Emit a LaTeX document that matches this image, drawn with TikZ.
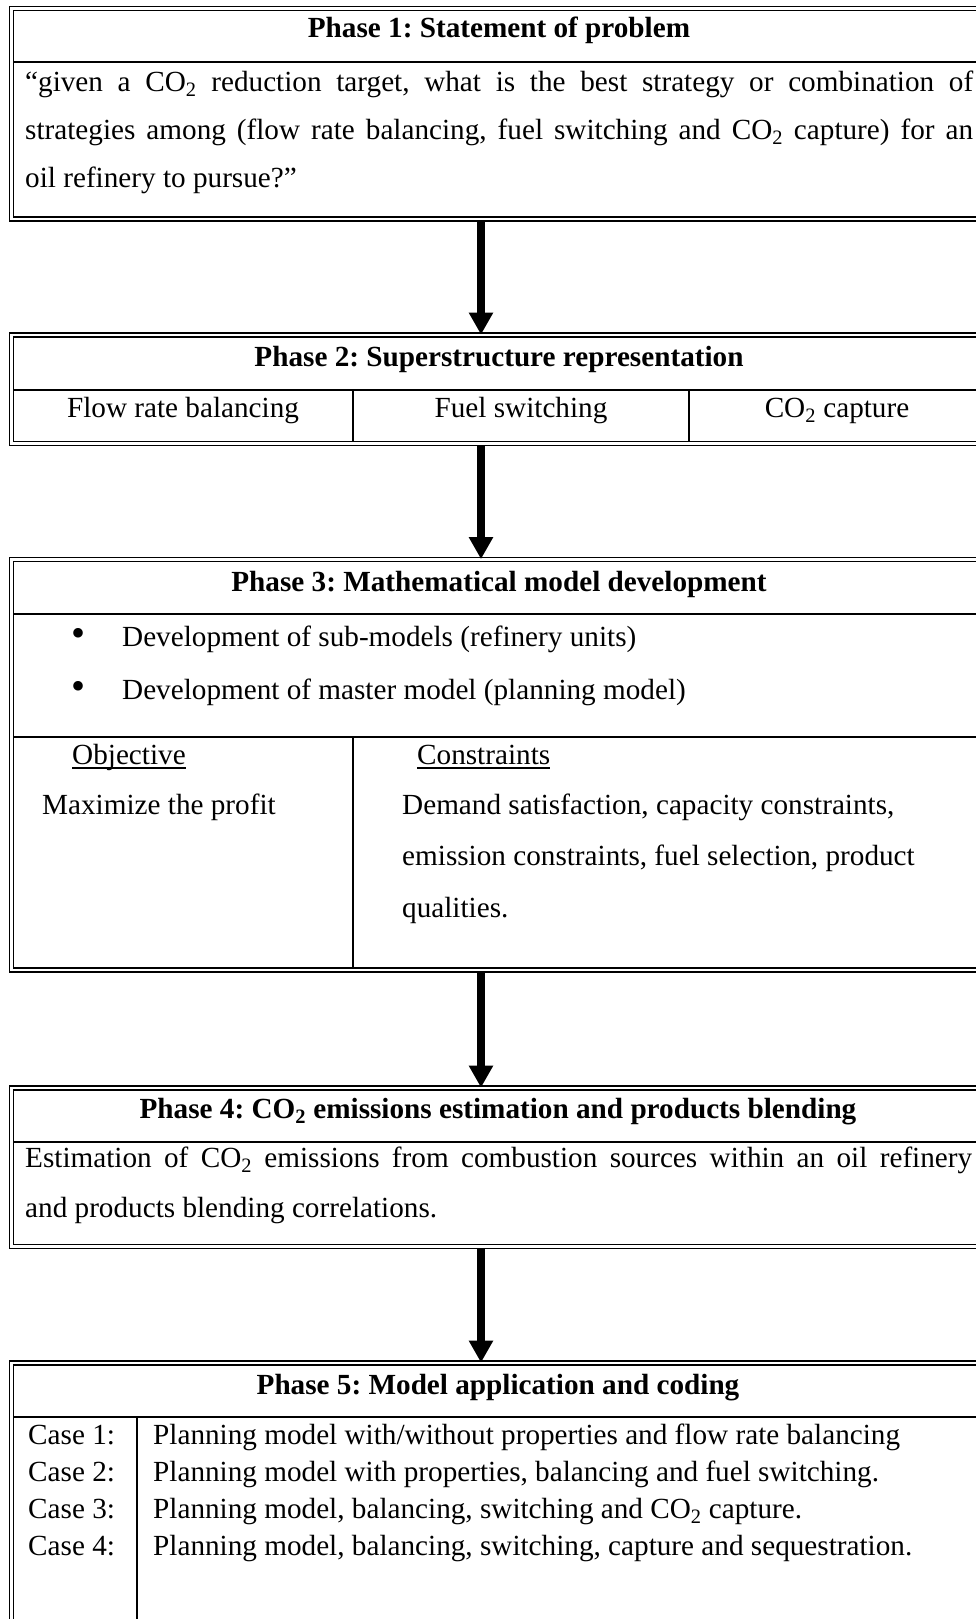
\documentclass[tikz,border=0pt]{standalone}
\usepackage{fontspec}
\setmainfont{Liberation Serif}
\usetikzlibrary{arrows.meta}

\begin{document}
\frenchspacing
\begin{tikzpicture}[x=1pt,y=-1pt,
  phasebox/.style={draw, double, line width=1.8pt, double distance=2.2pt,
    rectangle, inner sep=0pt, outer sep=2.9pt, minimum width=975.5pt},
  rule/.style={line width=1.6pt},
  uline/.style={line width=1.4pt},
  txt/.style={inner sep=0pt, font=\fontsize{29.2}{35}\selectfont},
  head/.style={inner sep=0pt, font=\fontsize{29.2}{35}\selectfont\bfseries, anchor=mid},
  lft/.style={txt, anchor=mid west},
  ctr/.style={txt, anchor=mid},
  dot/.style={inner sep=0pt, font=\fontsize{40}{40}\selectfont, anchor=center},
  flow/.style={line width=8pt, -{Triangle[width=23pt,length=22pt]}, shorten >=-2.5pt},
]
\useasboundingbox (0,0) rectangle (976,1619);
\clip (0,0) rectangle (976,1619);

% ---------- frames ----------
\node[phasebox, minimum height=210.5pt] (p1) at (499.25,113.75) {};
\node[phasebox, minimum height=108.5pt] (p2) at (499.25,389.25) {};
\node[phasebox, minimum height=410.5pt] (p3) at (499.25,764.75) {};
\node[phasebox, minimum height=158.5pt] (p4) at (499.25,1167.25) {};
\node[phasebox, minimum height=337pt]   (p5) at (499.25,1531.5) {};

% ---------- phase 1 ----------
\draw[rule] (13.5,62) -- (985,62);
\node[head] (h1) at (499,35) {Phase 1: Statement of problem};
\node[lft] (t1a) at (25,89) {\makebox[948pt][s]{“given a CO\textsubscript{2} reduction target, what is the best strategy or combination of}};
\node[lft] (t1b) at (25,137) {\makebox[948pt][s]{strategies among (flow rate balancing, fuel switching and CO\textsubscript{2} capture) for an}};
\node[lft] (t1c) at (25,185) {oil refinery to pursue?”};

% ---------- phase 2 ----------
\draw[rule] (13.5,390) -- (985,390);
\draw[rule] (353,390) -- (353,441.5);
\draw[rule] (689,390) -- (689,441.5);
\node[head] (h2) at (499,364) {Phase 2: Superstructure representation};
\node[ctr] (s1) at (183,415) {Flow rate balancing};
\node[ctr] (s2) at (521,415) {Fuel switching};
\node[ctr] (s3) at (837,415) {CO\textsubscript{2} capture};

% ---------- phase 3 ----------
\draw[rule] (13.5,614) -- (985,614);
\draw[rule] (13.5,737) -- (985,737);
\draw[rule] (353,737) -- (353,968);
\node[head] (h3) at (499,589) {Phase 3: Mathematical model development};
\node[dot] (b1) at (79,637) {•};
\node[lft] (m1) at (122,644) {Development of sub-models (refinery units)};
\node[dot] (b2) at (79,690) {•};
\node[lft] (m2) at (122,697) {Development of master model (planning model)};
\node[lft] (obj) at (72,762) {Objective};
\draw[uline] ([yshift=-3.5pt]obj.base west) -- ([yshift=-3.5pt]obj.base east);
\node[lft] (objt) at (42,812) {Maximize the profit};
\node[lft] (con) at (417,762) {Constraints};
\draw[uline] ([yshift=-3.5pt]con.base west) -- ([yshift=-3.5pt]con.base east);
\node[lft] (con1) at (402,812) {Demand satisfaction, capacity constraints,};
\node[lft] (con2) at (402,863) {emission constraints, fuel selection, product};
\node[lft] (con3) at (402,915) {qualities.};

% ---------- phase 4 ----------
\draw[rule] (13.5,1142) -- (985,1142);
\node[head] (h4) at (498,1116) {Phase 4: CO\textsubscript{2} emissions estimation and products blending};
\node[lft] (e1) at (25,1165) {\makebox[947pt][s]{Estimation of CO\textsubscript{2} emissions from combustion sources within an oil refinery}};
\node[lft] (e2) at (25,1215) {and products blending correlations.};

% ---------- phase 5 ----------
\draw[rule] (13.5,1417) -- (985,1417);
\draw[rule] (137,1417) -- (137,1700);
\node[head] (h5) at (498,1392) {Phase 5: Model application and coding};
\node[lft] (c1) at (28,1442) {Case 1:};
\node[lft] (d1) at (153,1442) {Planning model with/without properties and flow rate balancing};
\node[lft] (c2) at (28,1479) {Case 2:};
\node[lft] (d2) at (153,1479) {Planning model with properties, balancing and fuel switching.};
\node[lft] (c3) at (28,1516) {Case 3:};
\node[lft] (d3) at (153,1516) {Planning model, balancing, switching and CO\textsubscript{2} capture.};
\node[lft] (c4) at (28,1553) {Case 4:};
\node[lft] (d4) at (153,1553) {Planning model, balancing, switching, capture and sequestration.};

% ---------- flow between phases ----------
\coordinate (ax) at (481,0);
\draw[flow] (p1.south -| ax) -- (p2.north -| ax);
\draw[flow] (p2.south -| ax) -- (p3.north -| ax);
\draw[flow] (p3.south -| ax) -- (p4.north -| ax);
\draw[flow] (p4.south -| ax) -- (p5.north -| ax);
\end{tikzpicture}
\end{document}
